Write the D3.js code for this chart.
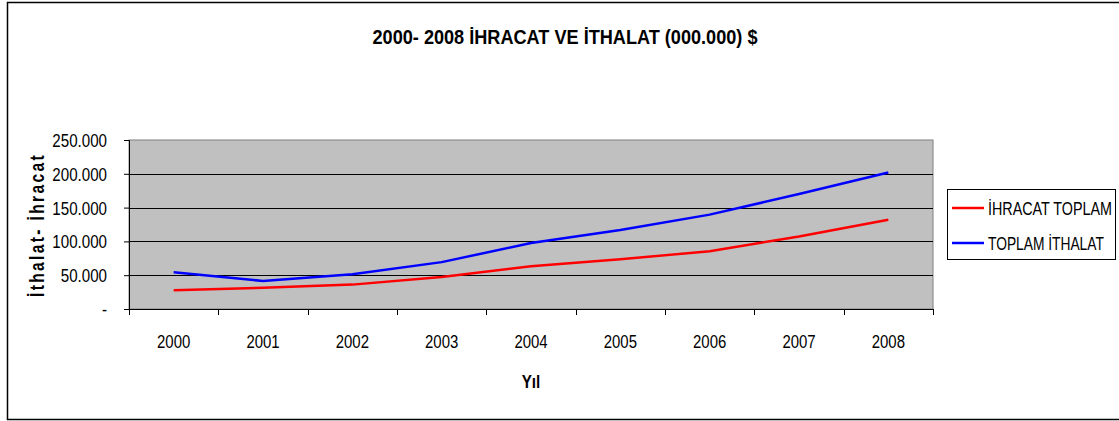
<!DOCTYPE html>
<html>
<head>
<meta charset="utf-8">
<script src="https://cdn.jsdelivr.net/npm/d3@7"></script>
<style>
  body { margin: 0; background: #fff; }
  svg text { font-family: "Liberation Sans", Arial, sans-serif; fill: #000; }
</style>
</head>
<body>
<script>
var years = ['2000', '2001', '2002', '2003', '2004', '2005', '2006', '2007', '2008']
var ihracat = [27775, 31334, 36059, 47253, 63167, 73476, 85535, 107272, 132027]
var ithalat = [54503, 41399, 51554, 69340, 97540, 116774, 139576, 170063, 201964]
var yTicks = [0, 50000, 100000, 150000, 200000, 250000]
var seriesNames = ['İHRACAT TOPLAM', 'TOPLAM İTHALAT']
var seriesColors = ['#ff0000', '#0000ff']

var width = 1119
var height = 421
var plot = { left: 129, right: 933, top: 140, bottom: 309 }

var svg = d3.select('body').append('svg')
    .attr('width', width)
    .attr('height', height)

// narrow look of the original font: squeeze the glyphs horizontally
function condense(sel, factor) {
    sel.each(function() {
        var w = this.getComputedTextLength()
        d3.select(this)
            .attr('textLength', w * factor)
            .attr('lengthAdjust', 'spacingAndGlyphs')
    })
}

// outer chart border
svg.append('rect')
    .attr('x', 7.5).attr('y', 2.5)
    .attr('width', 1116).attr('height', 417)
    .style('fill', 'none')
    .style('stroke', '#000')
    .style('stroke-width', 1.5)

var x = d3.scaleBand()
    .domain(years)
    .range([plot.left, plot.right])

var y = d3.scaleLinear()
    .domain([0, 250000])
    .range([plot.bottom, plot.top])

svg.append('rect')
    .attr('x', plot.left).attr('y', plot.top)
    .attr('width', plot.right - plot.left)
    .attr('height', plot.bottom - plot.top)
    .style('fill', '#c0c0c0')
    .style('stroke', '#808080')
    .style('stroke-width', 1)

// gridlines
svg.append('g')
    .selectAll('line')
    .data(yTicks.filter(function(d) { return d > 0 && d < 250000 }))
    .enter().append('line')
    .attr('x1', plot.left).attr('x2', plot.right)
    .attr('y1', function(d) { return Math.round(y(d)) + 0.5 })
    .attr('y2', function(d) { return Math.round(y(d)) + 0.5 })
    .style('stroke', '#000')
    .style('stroke-width', 1)

var fmt = function(d) {
    return d === 0 ? '-' : d3.format(',')(d).replace(/,/g, '.')
}

// y axis
var yAxis = svg.append('g')
    .attr('transform', 'translate(' + plot.left + ',0)')
    .call(d3.axisLeft(y).tickValues(yTicks).tickSize(5).tickPadding(17).tickFormat(fmt))
yAxis.select('.domain').style('stroke', '#000')
yAxis.selectAll('.tick line').style('stroke', '#000')
yAxis.selectAll('text')
    .style('font-size', '18px')
    .style('font-family', '"Liberation Sans", Arial, sans-serif')
    .attr('fill', '#000')
    .attr('dy', '0.36em')
    .call(condense, 0.84)

// x axis, ticks at category boundaries
var xAxis = svg.append('g')
    .attr('transform', 'translate(0,' + plot.bottom + ')')
xAxis.append('line')
    .attr('x1', plot.left).attr('x2', plot.right)
    .attr('y1', 0.5).attr('y2', 0.5)
    .style('stroke', '#000')
xAxis.selectAll('line.tk')
    .data(years.concat(['end']))
    .enter().append('line')
    .attr('class', 'tk')
    .attr('x1', function(d, i) { return Math.round(plot.left + i * x.bandwidth()) + 0.5 })
    .attr('x2', function(d, i) { return Math.round(plot.left + i * x.bandwidth()) + 0.5 })
    .attr('y1', 0).attr('y2', 6)
    .style('stroke', '#000')
xAxis.selectAll('text')
    .data(years)
    .enter().append('text')
    .attr('x', function(d) { return x(d) + x.bandwidth() / 2 })
    .attr('y', 39)
    .attr('text-anchor', 'middle')
    .style('font-size', '18px')
    .text(function(d) { return d })
    .call(condense, 0.83)

// lines
var line = d3.line()
    .x(function(d, i) { return x(years[i]) + x.bandwidth() / 2 })
    .y(function(d) { return y(d) })

svg.selectAll('path.series')
    .data([ihracat, ithalat])
    .enter().append('path')
    .attr('class', 'series')
    .attr('d', line)
    .style('fill', 'none')
    .style('stroke', function(d, i) { return seriesColors[i] })
    .style('stroke-width', 2.5)

// title
svg.append('text')
    .attr('x', 565).attr('y', 44)
    .attr('text-anchor', 'middle')
    .style('font-size', '21px')
    .style('font-weight', 'bold')
    .attr('textLength', 385)
    .attr('lengthAdjust', 'spacingAndGlyphs')
    .text('2000- 2008 İHRACAT VE İTHALAT (000.000) $')

// axis titles
svg.append('text')
    .attr('x', 531).attr('y', 388)
    .attr('text-anchor', 'middle')
    .style('font-size', '19px')
    .style('font-weight', 'bold')
    .text('Yıl')
    .call(condense, 0.8)

svg.append('text')
    .attr('transform', 'translate(44,225) rotate(-90)')
    .attr('text-anchor', 'middle')
    .style('font-size', '20px')
    .style('font-weight', 'bold')
    .attr('textLength', 144)
    .attr('lengthAdjust', 'spacingAndGlyphs')
    .style('letter-spacing', '3px')
    .text('İthalat- İhracat')

// legend
var legend = svg.append('g')
legend.append('rect')
    .attr('x', 947.5).attr('y', 189.5)
    .attr('width', 168).attr('height', 70)
    .style('fill', '#fff')
    .style('stroke', '#000')
    .style('stroke-width', 1)

var legendWidths = [124, 116]
var items = legend.selectAll('g.item')
    .data(seriesNames)
    .enter().append('g')
    .attr('class', 'item')
    .attr('transform', function(d, i) { return 'translate(0,' + (208 + i * 35) + ')' })
items.append('line')
    .attr('x1', 952).attr('x2', 984)
    .style('stroke', function(d, i) { return seriesColors[i] })
    .style('stroke-width', 2.5)
items.append('text')
    .style('font-size', '18px')
    .text(function(d) { return d })
    .each(function(d, i) {
        var k = legendWidths[i] / this.getComputedTextLength()
        d3.select(this).attr('transform', 'translate(988,7) scale(' + k + ',1)')
    })
</script>
</body>
</html>
